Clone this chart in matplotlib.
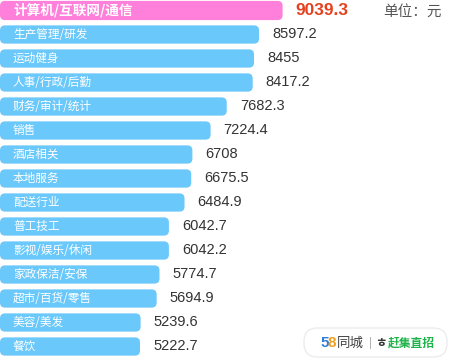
import matplotlib
matplotlib.use("Agg")
import matplotlib.pyplot as plt
from matplotlib.patches import FancyBboxPatch

plt.rcParams['font.family'] = ['Noto Sans CJK SC', 'DejaVu Sans']

# data
categories = ['计算机/互联网/通信', '生产管理/研发', '运动健身', '人事/行政/后勤',
              '财务/审计/统计', '销售', '酒店相关', '本地服务', '配送行业',
              '普工技工', '影视/娱乐/休闲', '家政保洁/安保', '超市/百货/零售',
              '美容/美发', '餐饮']
salaries = [9039.3, 8597.2, 8455, 8417.2, 7682.3, 7224.4, 6708, 6675.5, 6484.9,
            6042.7, 6042.2, 5774.7, 5694.9, 5239.6, 5222.7]
unit_label = '单位：元'

W, H = 453, 361
fig = plt.figure(figsize=(W / 100, H / 100), dpi=100)
ax = fig.add_axes([0, 0, 1, 1])
ax.axis('off')

# scale: px per unit
px_per_unit = 0.03527
x0 = 1253
x1 = x0 + W / px_per_unit
row_px = 24
ax.set_xlim(x0, x1)
ax.set_ylim((H - 10.5) / row_px, -10.5 / row_px)

xu = 1 / px_per_unit        # data units per pixel in x
yu = 1 / row_px             # data units per pixel in y

blue = '#6ac8fa'
pink = '#ff80da'

for i, (cat, val) in enumerate(zip(categories, salaries)):
    top = i == 0
    h = 0.80 if top else 0.76
    color = pink if top else blue
    extra = 8 * xu if top else 0   # highlighted bar drawn a bit longer
    r = 5 * xu
    patch = FancyBboxPatch((x0, i - h / 2), val - x0 + extra, h,
                           boxstyle=f"round,pad=0,rounding_size={r}",
                           mutation_aspect=yu / xu,
                           facecolor=color, edgecolor='none')
    ax.add_patch(patch)
    ax.text(x0 + 13 * xu, i, cat, color='white', va='center', ha='left',
            fontsize=9.8 if top else 8.4, fontweight='bold' if top else 'normal')
    ax.text(val + extra + 13 * xu, i, f"{val:g}", va='center', ha='left',
            family=['Liberation Sans', 'DejaVu Sans'],
            fontsize=12.5 if top else 10.5,
            fontweight='bold' if top else 'normal',
            color='#e4421e' if top else '#333333')

# unit label
fig.text(383 / W, 1 - 12 / H, unit_label, ha='left', va='center',
         fontsize=10.5, color='#555555')

# logo box bottom right
box = FancyBboxPatch((304 / W, 1 - 357 / H), 143 / W, 29 / H,
                     boxstyle="round,pad=0,rounding_size=0.03",
                     mutation_aspect=W / H,
                     transform=fig.transFigure, facecolor='white',
                     edgecolor='#ececec', linewidth=1.0)
fig.patches.append(box)
ly = 1 - 343 / H
fig.text(320 / W, ly, '5', color='#2f7fd8', fontsize=11, fontweight='bold',
         ha='left', va='center', family=['Liberation Sans'])
fig.text(327 / W, ly, '8', color='#f0a020', fontsize=11, fontweight='bold',
         ha='left', va='center', family=['Liberation Sans'])
fig.text(337 / W, ly, '同城', color='#444444', fontsize=9.7,
         ha='left', va='center')
fig.text(370 / W, ly, '|', color='#999999', fontsize=8,
         ha='center', va='center')
fig.text(381 / W, ly, 'ㅎ', color='#333333', fontsize=9, fontweight='bold',
         ha='center', va='center')
fig.text(388 / W, ly, '赶集直招', color='#1fb34a', fontsize=8.5, fontweight='bold',
         ha='left', va='center')

fig.savefig('out.png', dpi=100)
